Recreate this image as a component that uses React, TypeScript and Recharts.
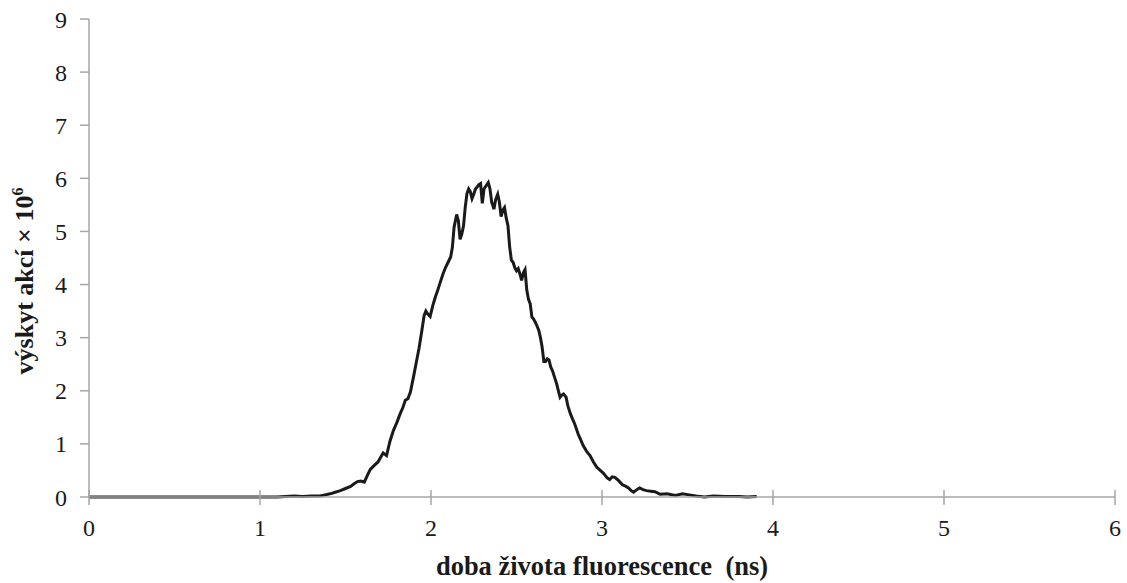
import { Label, Line, LineChart, XAxis, YAxis } from "recharts"

// lifetime (ns)
const times = [
  0, 0.5, 1.0, 1.1, 1.15, 1.2, 1.25, 1.3, 1.35, 1.38, 1.41, 1.44, 1.47, 1.5, 1.53, 1.55, 1.57, 1.59, 1.61, 1.63,
  1.645, 1.67, 1.69, 1.72, 1.74, 1.76, 1.78, 1.8, 1.82, 1.835, 1.85, 1.865, 1.88, 1.9, 1.915, 1.93, 1.945, 1.96,
  1.97, 1.98, 1.995, 2.01, 2.025, 2.04, 2.055, 2.07, 2.085, 2.1, 2.115, 2.125, 2.135, 2.15, 2.16, 2.17, 2.18, 2.19,
  2.2, 2.21, 2.22, 2.23, 2.24, 2.25, 2.26, 2.27, 2.28, 2.29, 2.3, 2.31, 2.32, 2.335, 2.345, 2.355, 2.368, 2.378,
  2.39, 2.4, 2.41, 2.42, 2.43, 2.44, 2.45, 2.46, 2.47, 2.48, 2.49, 2.5, 2.51, 2.52, 2.53, 2.54, 2.55, 2.56, 2.57,
  2.58, 2.59, 2.6, 2.61, 2.62, 2.63, 2.64, 2.65, 2.66, 2.67, 2.68, 2.69, 2.7, 2.71, 2.72, 2.735, 2.745, 2.755,
  2.765, 2.775, 2.79, 2.8, 2.815, 2.83, 2.84, 2.86, 2.875, 2.89, 2.91, 2.93, 2.95, 2.97, 2.99, 3.01, 3.03, 3.045,
  3.06, 3.075, 3.09, 3.105, 3.12, 3.14, 3.155, 3.17, 3.185, 3.2, 3.22, 3.24, 3.26, 3.285, 3.31, 3.34, 3.38, 3.43,
  3.47, 3.51, 3.55, 3.6, 3.65, 3.72, 3.8, 3.85, 3.905,
]

// counts (× 10^6)
const counts = [
  0, 0, 0, 0, 0.01, 0.02, 0.01, 0.02, 0.02, 0.04, 0.06, 0.09, 0.12, 0.16, 0.2, 0.25, 0.29, 0.3, 0.28, 0.42,
  0.52, 0.6, 0.66, 0.83, 0.78, 1.05, 1.25, 1.4, 1.57, 1.68, 1.82, 1.85, 1.98, 2.3, 2.55, 2.8, 3.1, 3.42,
  3.5, 3.45, 3.4, 3.6, 3.76, 3.9, 4.05, 4.2, 4.32, 4.42, 4.52, 4.7, 5.08, 5.32, 5.2, 4.85, 4.95, 5.1,
  5.45, 5.71, 5.8, 5.75, 5.62, 5.7, 5.8, 5.84, 5.88, 5.9, 5.53, 5.8, 5.85, 5.92, 5.8, 5.55, 5.42, 5.6,
  5.7, 5.55, 5.28, 5.4, 5.45, 5.25, 5.11, 4.71, 4.46, 4.42, 4.32, 4.26, 4.3, 4.2, 4.08, 4.22, 4.28, 3.9, 3.72,
  3.64, 3.39, 3.35, 3.29, 3.22, 3.14, 3.0, 2.82, 2.55, 2.55, 2.6, 2.58, 2.45, 2.38, 2.28, 2.13, 2.0, 1.88,
  1.92, 1.94, 1.88, 1.72, 1.57, 1.45, 1.38, 1.19, 1.08, 0.97, 0.86, 0.78, 0.66, 0.56, 0.5, 0.44, 0.36, 0.33,
  0.38, 0.37, 0.33, 0.28, 0.23, 0.2, 0.17, 0.12, 0.09, 0.13, 0.17, 0.14, 0.12, 0.11, 0.1, 0.05, 0.06, 0.03,
  0.06, 0.04, 0.02, 0, 0.02, 0.01, 0.01, 0, 0.01,
]

const xTicks = [0, 1, 2, 3, 4, 5, 6]
const yTicks = [0, 1, 2, 3, 4, 5, 6, 7, 8, 9]

const data = times.map((t, i) => ({ t, v: counts[i] }))

const FONT = "Liberation Serif"
const AXIS = "#a6a6a6"
const INK = "#1a1a1a"

// x ticks in the original cross the axis line
const XTick = (props: any) => {
  const { x, y, payload } = props
  const axisY = y - 22
  return (
    <g>
      <line x1={x} x2={x} y1={axisY - 7} y2={axisY + 8} stroke={AXIS} strokeWidth={1.5} />
      <text x={x} y={y} dy="0.71em" textAnchor="middle" style={{ fontFamily: FONT, fontSize: 24 }} fill={INK}>
        {payload.value}
      </text>
    </g>
  )
}

export default function App() {
  return (
    <div style={{ position: "absolute", left: 0, top: 0, fontFamily: FONT }}>
      <LineChart width={1127} height={583} data={data} margin={{ top: 19, right: 12, left: 0, bottom: 26 }}>
        <XAxis
          dataKey="t"
          type="number"
          domain={[0, 6]}
          ticks={xTicks}
          interval={0}
          height={60}
          tickLine={false}
          tickSize={8}
          tickMargin={14}
          stroke={AXIS}
          strokeWidth={1.5}
          tick={<XTick />}
        >
          <Label
            content={() => (
              <text
                x={602}
                y={575}
                textAnchor="middle"
                fill={INK}
                style={{ fontFamily: FONT, fontSize: 26.5, fontWeight: "bold", whiteSpace: "pre" }}
              >
                doba života fluorescence  (ns)
              </text>
            )}
          />
        </XAxis>
        <YAxis
          type="number"
          domain={[0, 9]}
          ticks={yTicks}
          interval={0}
          width={89}
          tickSize={9}
          tickMargin={13}
          stroke={AXIS}
          strokeWidth={1.5}
          tick={{ fontSize: 24, fill: INK, style: { fontFamily: FONT } }}
        >
          <Label
            content={() => (
              <text
                x={33}
                y={281}
                transform="rotate(-90 33 281)"
                textAnchor="middle"
                fill={INK}
                style={{ fontFamily: FONT, fontSize: 26, fontWeight: "bold" }}
              >
                výskyt akcí × 10
                <tspan dy={-10} style={{ fontSize: 16 }}>
                  6
                </tspan>
              </text>
            )}
          />
        </YAxis>
        <Line
          type="linear"
          dataKey="v"
          stroke={INK}
          strokeWidth={3}
          dot={false}
          isAnimationActive={false}
        />
      </LineChart>
    </div>
  )
}
